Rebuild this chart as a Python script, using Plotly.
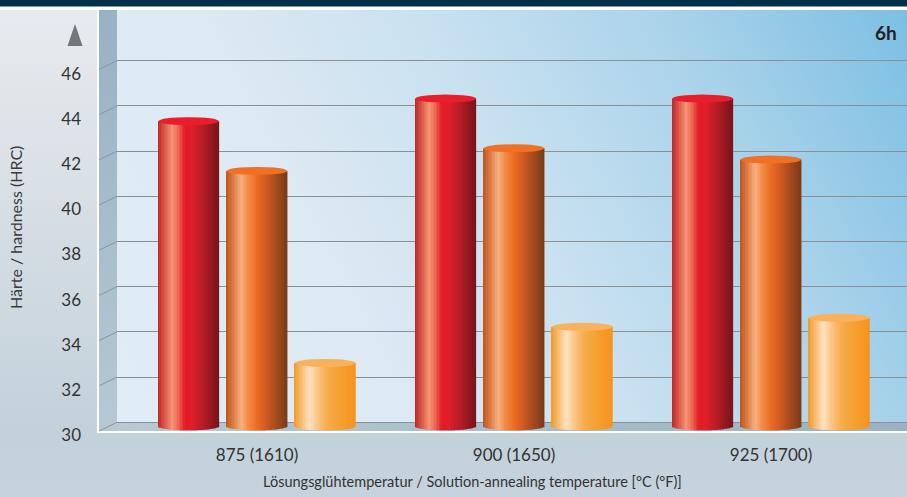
import base64
import numpy as np
import plotly.graph_objects as go

# ---- data -------------------------------------------------------------
categories = ["875 (1610)", "900 (1650)", "925 (1700)"]
hardness_red = [43.5, 44.5, 44.5]
hardness_orange = [41.3, 42.3, 41.8]
hardness_light = [32.8, 34.4, 34.8]
y_tick_values = [30, 32, 34, 36, 38, 40, 42, 44, 46]
y_title = "Härte / hardness (HRC)"
x_title = "Lösungsglühtemperatur / Solution-annealing temperature [°C (°F)]"
panel_label = "6h"

# ---- geometry ---------------------------------------------------------
W, H = 907, 497
L, R, T, B = 117, 0, 10, 66
PW, PH = W - L - R, H - T - B
PX_PER_UNIT = 22.6           # vertical pixels per HRC unit
DEPTH = 8.7                  # floor depth (px) between back wall and front edge
MID = 4.7                    # cylinders stand half way into the floor
WALL = 18                    # width of the left side wall (px)
BASE = 30

y_range = [BASE - MID / PX_PER_UNIT, BASE - MID / PX_PER_UNIT + PH / PX_PER_UNIT]
y2_range = [BASE - DEPTH / PX_PER_UNIT, BASE - DEPTH / PX_PER_UNIT + PH / PX_PER_UNIT]

CAT_PX = 257.0
x0 = -140.0 / CAT_PX
x_range = [x0, x0 + PW / CAT_PX]
BAR_W = 60.5 / CAT_PX
PITCH = 68.3 / CAT_PX
CAP = 4.0 / PX_PER_UNIT      # half height of the elliptical cap
N_STRIPS = 40


def hex_rgb(h):
    h = h.lstrip("#")
    return np.array([int(h[i:i + 2], 16) for i in (0, 2, 4)], dtype=float)


def shade(stops, t):
    for (t0, c0), (t1, c1) in zip(stops[:-1], stops[1:]):
        if t0 <= t <= t1:
            f = 0 if t1 == t0 else (t - t0) / (t1 - t0)
            c = hex_rgb(c0) * (1 - f) + hex_rgb(c1) * f
            return "rgb(%d,%d,%d)" % tuple(np.round(c))
    return stops[-1][1]


red_stops = [(0, "#b8272d"), (0.08, "#d4473c"), (0.24, "#f39475"), (0.33, "#ef6c56"),
             (0.45, "#e41b25"), (0.56, "#df1f2b"), (0.76, "#b21c26"), (1, "#7a1418")]
orange_stops = [(0, "#c0561f"), (0.1, "#d9753e"), (0.25, "#f7b27f"), (0.36, "#f28c4a"),
                (0.5, "#ee6e22"), (0.66, "#d05a22"), (1, "#7b3a18")]
light_stops = [(0, "#f39a2a"), (0.1, "#f8b664"), (0.25, "#fee2c0"), (0.36, "#fbc88c"),
               (0.55, "#f7ab4c"), (0.78, "#f59f2e"), (1, "#f6931e")]

series = [
    (hardness_red, red_stops, "#ea1d2d", -1),
    (hardness_orange, orange_stops, "#ef7126", 0),
    (hardness_light, light_stops, "#f9b15c", 1),
]

fig = go.Figure()
shapes = []

for values, stops, cap_color, slot in series:
    centers = [i + slot * PITCH for i in range(len(categories))]
    sw = BAR_W / N_STRIPS
    for k in range(N_STRIPS):
        u = (k + 0.5) / N_STRIPS
        off = -BAR_W / 2 + (k + 0.5) * sw
        drop = CAP * np.sqrt(max(0.0, 1 - (2 * u - 1) ** 2))
        base = BASE - drop
        fig.add_trace(go.Bar(
            x=[c + off for c in centers],
            y=[v - base for v in values],
            base=[base] * len(values),
            width=sw * 1.25,
            marker=dict(color=shade(stops, u), line=dict(width=0)),
            showlegend=False,
            hoverinfo="skip",
        ))
    for c, v in zip(centers, values):
        shapes.append(dict(type="circle", xref="x", yref="y",
                           x0=c - BAR_W / 2, x1=c + BAR_W / 2, y0=v - CAP, y1=v + CAP,
                           fillcolor=cap_color, line=dict(width=0), layer="above"))

# ---- background artwork (panel, side wall, floor) ---------------------
def py(v, rng):
    return T + (rng[1] - v) / (rng[1] - rng[0]) * PH

back30 = py(BASE, y2_range)
front = T + PH
svg = f'''<svg xmlns="http://www.w3.org/2000/svg" width="{W}" height="{H}" viewBox="0 0 {W} {H}">
<defs>
<linearGradient id="page" x1="0" y1="0" x2="0" y2="{H}" gradientUnits="userSpaceOnUse">
<stop offset="0" stop-color="#e9ebef"/><stop offset="0.87" stop-color="#c3d1da"/><stop offset="1" stop-color="#c6d3dc"/></linearGradient>
<linearGradient id="area" x1="{L}" y1="{front}" x2="{W}" y2="{T}" gradientUnits="userSpaceOnUse">
<stop offset="0" stop-color="#e1edf6"/><stop offset="0.3" stop-color="#dde9f3"/><stop offset="0.52" stop-color="#c9e1f0"/>
<stop offset="0.77" stop-color="#a8d2ea"/><stop offset="1" stop-color="#7cbfe3"/></linearGradient>
<linearGradient id="wall" x1="0" y1="{T}" x2="0" y2="{front}" gradientUnits="userSpaceOnUse">
<stop offset="0" stop-color="#97b2c3"/><stop offset="1" stop-color="#b6c8d3"/></linearGradient>
<linearGradient id="floor" x1="{L}" y1="0" x2="{W}" y2="0" gradientUnits="userSpaceOnUse">
<stop offset="0" stop-color="#b7c9d4"/><stop offset="1" stop-color="#99b3c4"/></linearGradient>
</defs>
<rect x="0" y="0" width="{W}" height="{H}" fill="url(#page)"/>
<rect x="0" y="0" width="{W}" height="6.7" fill="#01304a"/>
<rect x="0" y="6.7" width="{W}" height="3.3" fill="#ffffff"/>
<rect x="{L}" y="{T}" width="{PW}" height="{back30 - T}" fill="url(#area)"/>
<polygon points="{L - WALL},{T} {L},{T} {L},{back30} {L - WALL},{front}" fill="url(#wall)"/>
<polygon points="{L - WALL},{front} {L},{back30} {W},{back30} {W},{front}" fill="url(#floor)"/>
<rect x="{L - WALL - 2}" y="{T}" width="2" height="{front - T + 2}" fill="#ffffff"/>
<rect x="{L - WALL - 2}" y="{front}" width="{W - L + WALL + 2}" height="2" fill="#ffffff"/>
</svg>'''
svg_uri = "data:image/svg+xml;base64," + base64.b64encode(svg.encode("utf-8")).decode()

images = [dict(source=svg_uri, xref="paper", yref="paper", x=-L / PW, y=1 + T / PH,
               sizex=W / PW, sizey=H / PH, xanchor="left", yanchor="top",
               sizing="stretch", layer="below")]

# slanted grid lines on the side wall
for v in y_tick_values:
    yb = (v - y2_range[0]) / (y2_range[1] - y2_range[0])
    yf = yb - DEPTH / PH
    shapes.append(dict(type="line", xref="paper", yref="paper",
                       x0=0, y0=yb, x1=-WALL / PW, y1=yf,
                       line=dict(color="#8796a1", width=1), layer="below"))

# axis arrow marker above the value labels
ax_, ay_ = 75, 24
tri = [(ax_ - 7.5, ay_ + 22), (ax_ + 7.5, ay_ + 22), (ax_, ay_)]
path = "M " + " L ".join(f"{(x - L) / PW},{(T + PH - y) / PH}" for x, y in tri) + " Z"
shapes.append(dict(type="path", xref="paper", yref="paper", path=path,
                   fillcolor="#72777b", line=dict(width=0), layer="above"))

FONT = "Lato, 'Open Sans', sans-serif"

fig.update_layout(
    width=W, height=H,
    margin=dict(l=L, r=R, t=T, b=B, pad=0),
    paper_bgcolor="#c6d3dc",
    plot_bgcolor="rgba(0,0,0,0)",
    barmode="overlay",
    hovermode=False,
    showlegend=False,
    images=images,
    shapes=shapes,
    xaxis=dict(range=x_range, tickvals=list(range(len(categories))), ticktext=categories,
               showgrid=False, zeroline=False, showline=False, ticks="",
               tickfont=dict(family=FONT, size=17, color="#333333"),
               ticklabelstandoff=12, fixedrange=True),
    yaxis=dict(range=y_range, tickvals=y_tick_values, ticktext=[str(v) for v in y_tick_values],
               showgrid=False, zeroline=False, showline=False, ticks="",
               tickfont=dict(family=FONT, size=17, color="#333333"),
               ticklabelstandoff=35, ticklabelshift=9, fixedrange=True),
    yaxis2=dict(range=y2_range, overlaying="y", side="left", tickvals=y_tick_values,
                showticklabels=False, showgrid=True, gridcolor="#8b9095", gridwidth=1.2,
                zeroline=False, showline=False, ticks="", fixedrange=True),
    annotations=[
        dict(text=x_title, xref="paper", yref="paper", x=(472.5 - L) / PW, y=(T + PH - 481) / PH,
             xanchor="center", yanchor="middle", showarrow=False,
             font=dict(family=FONT, size=14.5, color="#333333")),
        dict(text=y_title, xref="paper", yref="paper", x=(15.5 - L) / PW, y=(T + PH - 227.5) / PH,
             xanchor="center", yanchor="middle", textangle=-90, showarrow=False,
             font=dict(family=FONT, size=16, color="#3a3a3a")),
        dict(text="<b>" + panel_label + "</b>", xref="paper", yref="paper", x=(899 - L) / PW,
             y=(T + PH - 33) / PH, xanchor="right", yanchor="middle", showarrow=False,
             font=dict(family=FONT, size=19, color="#222222")),
    ],
)

# an invisible trace keeps the overlay axis active for its grid lines
fig.add_trace(go.Scatter(x=[x_range[0]], y=[y2_range[0]], yaxis="y2", mode="markers",
                         marker=dict(opacity=0), showlegend=False, hoverinfo="skip"))

fig.write_html("out.html")
